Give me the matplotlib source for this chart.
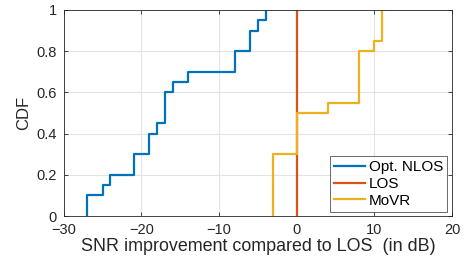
import numpy as np
import matplotlib
matplotlib.use("Agg")
import matplotlib.pyplot as plt

plt.rcParams['font.family'] = ['Liberation Sans', 'DejaVu Sans']

# Samples (dB) read from the CDF steps
opt_nlos = [-27, -27, -25, -24, -21, -21, -19, -19, -18, -17, -17, -17,
            -16, -14, -8, -8, -6, -6, -5, -4]
los = [0]
movr = [-3, -3, -3, -3, -3, -3, 0, 0, 0, 0, 4, 8, 8, 8, 8, 8, 10, 11, 11, 11]

series_names = ["Opt. NLOS", "LOS", "MoVR"]
colors = ["#0072BD", "#D95319", "#EDB120"]
x_ticks = [-30, -20, -10, 0, 10, 20]
y_ticks = [0, 0.2, 0.4, 0.6, 0.8, 1]
y_tick_labels = ["0", "0.2", "0.4", "0.6", "0.8", "1"]


def ecdf(vals):
    v = np.sort(np.asarray(vals, dtype=float))
    u, c = np.unique(v, return_counts=True)
    F = np.cumsum(c) / len(v)
    x = np.concatenate([[u[0]], u])
    y = np.concatenate([[0.0], F])
    return x, y


fig = plt.figure(figsize=(4.66, 2.61), dpi=100)
ax = fig.add_axes([0.137, 0.172, 0.833, 0.790])

for data, name, col in zip([opt_nlos, los, movr], series_names, colors):
    x, y = ecdf(data)
    ax.step(x, y, where='post', color=col, lw=1.6, label=name)

ax.set_xlim(-30, 20)
ax.set_ylim(0, 1)
ax.set_xticks(x_ticks)
ax.set_yticks(y_ticks)
ax.set_yticklabels(y_tick_labels)
ax.grid(True, color='#e3e3e3', lw=0.8)
ax.set_axisbelow(True)
ax.tick_params(direction='in', top=True, right=True, length=3,
               labelsize=10.5, colors='#262626', width=0.6)
ax.tick_params(axis='x', pad=5)
ax.tick_params(axis='y', pad=5)
for s in ax.spines.values():
    s.set_color('#262626')
    s.set_linewidth(0.6)
ax.set_xlabel("SNR improvement compared to LOS  (in dB)", fontsize=12.9,
              color='#262626', labelpad=1)
ax.set_ylabel("CDF", fontsize=12, color='#262626', labelpad=4)

leg = ax.legend(loc='lower right', fontsize=11, frameon=True, fancybox=False,
                edgecolor='#262626', handlelength=2.0, handletextpad=0.3,
                borderpad=0.25, labelspacing=0.18, borderaxespad=0.3)
leg.get_frame().set_linewidth(0.6)

fig.savefig("out.png", dpi=100)
